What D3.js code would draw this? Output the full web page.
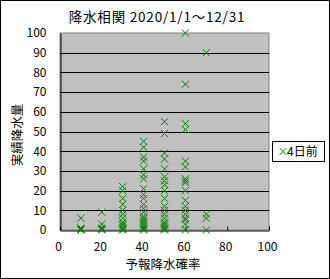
<!DOCTYPE html>
<html><head><meta charset="utf-8">
<script src="https://cdn.jsdelivr.net/npm/d3@7"></script>
<style>body{margin:0;background:#fff}svg{display:block}</style>
</head><body>
<script>
const title = "降水相関 2020/1/1～12/31";
const xTitle = "予報降水確率";
const yTitle = "実績降水量";
const seriesName = "4日前";
const xTicks = [0, 20, 40, 60, 80, 100];
const yTicks = [0, 10, 20, 30, 40, 50, 60, 70, 80, 90, 100];
const forecastPct = [10, 20, 30, 40, 50, 60, 70];
const p10 = [6, 1, 0.5, 0, 0];
const p20 = [9, 3, 1, 0.5, 0];
const p30 = [22, 20, 16, 13, 10, 8, 6, 4, 3, 2, 1, 0.5, 0];
const p40 = [45, 42, 37, 35, 31, 28, 26, 21, 18, 16, 13, 11, 9, 7, 6, 5, 4, 3, 2, 1, 0.5, 0];
const p50 = [55, 49, 39, 36, 31, 27, 25, 23, 20, 16, 12, 10, 8, 6, 4, 3, 2, 1, 0.5, 0];
const p60 = [100, 74, 54, 51, 35, 32, 26, 25, 24, 20, 15, 12, 10, 8, 6, 5, 3, 0];
const p70 = [90, 8, 6, 0];
const actual = [p10, p20, p30, p40, p50, p60, p70];

const W = 330, H = 279;
const m = {l: 60, r: 269, t: 33, b: 230};
const svg = d3.select("body").append("svg").attr("width", W).attr("height", H);
const font = "'Noto Sans CJK JP', 'Liberation Sans', sans-serif";

svg.append("rect").attr("x", 0.5).attr("y", 0.5).attr("width", W - 1).attr("height", H - 1)
  .attr("fill", "#fff").attr("stroke", "#000");

const x = d3.scaleLinear().domain([0, 100]).range([m.l, m.r]);
const y = d3.scaleLinear().domain([0, 100]).range([m.b, m.t]);

svg.append("rect").attr("x", m.l).attr("y", m.t).attr("width", m.r - m.l).attr("height", m.b - m.t)
  .attr("fill", "#c0c0c0").attr("stroke", "#808080");

// gridlines
svg.append("g").selectAll("line").data(yTicks.filter(d => d > 0 && d < 100)).join("line")
  .attr("x1", m.l).attr("x2", m.r)
  .attr("y1", d => Math.round(y(d)) + 0.5).attr("y2", d => Math.round(y(d)) + 0.5)
  .attr("stroke", "#000");

// axes
const xAxis = svg.append("g").attr("transform", `translate(0,${m.b + 0.5})`)
  .call(d3.axisBottom(x).tickValues(xTicks).tickSizeInner(-4).tickSizeOuter(0).tickPadding(12));
const yAxis = svg.append("g").attr("transform", `translate(${m.l + 0.5},0)`)
  .call(d3.axisLeft(y).tickValues(yTicks).tickSizeInner(0).tickSizeOuter(0).tickPadding(14));
[xAxis, yAxis].forEach(g => {
  g.select(".domain").attr("stroke", "#000");
  g.selectAll(".tick line").attr("stroke", "#000");
  g.selectAll("text").attr("font-family", font).attr("font-size", 12).attr("fill", "#000");
});
xAxis.selectAll("text").attr("dx", -2);

// data points
const pts = [];
actual.forEach((arr, i) => arr.forEach(v => pts.push([forecastPct[i], v])));
const s = 3.5;
const cross = (cx, cy) => `M${cx - s},${cy - s}L${cx + s},${cy + s}M${cx - s},${cy + s}L${cx + s},${cy - s}`;
svg.append("g").selectAll("path").data(pts).join("path")
  .attr("d", d => cross(x(d[0]), y(d[1])))
  .attr("stroke", "#008000").attr("stroke-width", 1).attr("fill", "none");

// titles
svg.append("text").attr("x", 157).attr("y", 22).attr("text-anchor", "middle")
  .attr("font-family", font).attr("font-size", 13.5).attr("letter-spacing", 0.8).text(title);
svg.append("text").attr("x", 163).attr("y", 269).attr("text-anchor", "middle")
  .attr("font-family", font).attr("font-size", 12.5).text(xTitle);
svg.append("text").attr("transform", "translate(22,135) rotate(-90)").attr("text-anchor", "middle")
  .attr("font-family", font).attr("font-size", 12.5).text(yTitle);

// legend
const lg = svg.append("g");
lg.append("rect").attr("x", 272.5).attr("y", 141.5).attr("width", 52).attr("height", 20)
  .attr("fill", "#fff").attr("stroke", "#000");
lg.append("path").attr("d", cross(283, 151.5)).attr("stroke", "#008000").attr("fill", "none");
lg.append("text").attr("x", 287).attr("y", 156).attr("font-family", font).attr("font-size", 12).text(seriesName);
</script>
</body></html>
